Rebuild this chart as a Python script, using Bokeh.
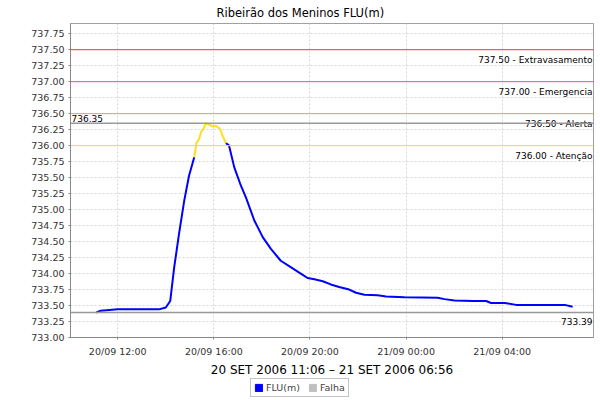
import pandas as pd
from bokeh.plotting import figure
from bokeh.layouts import column
from bokeh.models import (Range1d, FixedTicker, DatetimeTickFormatter, NumeralTickFormatter,
                          Span, Label, Legend, LegendItem, Title)
from bokeh.embed import file_html
from bokeh.resources import INLINE

# ---------------- data ----------------
times = [
    "2006-09-20 11:06", "2006-09-20 11:17", "2006-09-20 12:00", "2006-09-20 13:43",
    "2006-09-20 14:00", "2006-09-20 14:11", "2006-09-20 14:21", "2006-09-20 14:33",
    "2006-09-20 14:46", "2006-09-20 14:58", "2006-09-20 15:11", "2006-09-20 15:17",
    "2006-09-20 15:23", "2006-09-20 15:29", "2006-09-20 15:33", "2006-09-20 15:40",
    "2006-09-20 15:48", "2006-09-20 15:57", "2006-09-20 16:05", "2006-09-20 16:16",
    "2006-09-20 16:20", "2006-09-20 16:30", "2006-09-20 16:38", "2006-09-20 16:51",
    "2006-09-20 17:06", "2006-09-20 17:20", "2006-09-20 17:41", "2006-09-20 18:02",
    "2006-09-20 18:22", "2006-09-20 18:47", "2006-09-20 19:12", "2006-09-20 19:37",
    "2006-09-20 19:54", "2006-09-20 20:11", "2006-09-20 20:32", "2006-09-20 20:52",
    "2006-09-20 21:13", "2006-09-20 21:38", "2006-09-20 21:55", "2006-09-20 22:16",
    "2006-09-20 22:49", "2006-09-20 23:10", "2006-09-20 23:56", "2006-09-21 01:19",
    "2006-09-21 01:36", "2006-09-21 02:01", "2006-09-21 02:47", "2006-09-21 03:20",
    "2006-09-21 03:32", "2006-09-21 04:06", "2006-09-21 04:35", "2006-09-21 06:36",
    "2006-09-21 06:56",
]
levels = [
    733.39, 733.42, 733.44, 733.44,
    733.47, 733.57, 734.10, 734.62,
    735.14, 735.53, 735.82, 736.05,
    736.10, 736.23, 736.25, 736.35,
    736.33, 736.30, 736.31, 736.26,
    736.18, 736.04, 736.00, 735.66,
    735.40, 735.19, 734.83, 734.57,
    734.39, 734.20, 734.10, 734.00,
    733.93, 733.91, 733.88, 733.83,
    733.79, 733.75, 733.70, 733.67,
    733.66, 733.64, 733.63, 733.62,
    733.60, 733.58, 733.57, 733.57,
    733.54, 733.54, 733.51, 733.51,
    733.48,
]
alert_from = "2006-09-20 15:11"
alert_to = "2006-09-20 16:30"
falha_times = []
falha_levels = []

limit_levels = [737.50, 737.00, 736.50, 736.00]
limit_names = ["Extravasamento", "Emergencia", "Alerta", "Atenção"]
limit_colors = ["#ee3a3a", "#e444e4", "#f0a040", "#ffd830"]

x_ticks = ["2006-09-20 12:00", "2006-09-20 16:00", "2006-09-20 20:00",
           "2006-09-21 00:00", "2006-09-21 04:00"]
y_ticks = [733.00, 733.25, 733.50, 733.75, 734.00, 734.25, 734.50, 734.75,
           735.00, 735.25, 735.50, 735.75, 736.00, 736.25, 736.50, 736.75,
           737.00, 737.25, 737.50, 737.75]
x_start, x_end = "2006-09-20 10:02", "2006-09-21 07:48"
y_start, y_end = 733.00, 737.91

title_text = "Ribeirão dos Meninos FLU(m)"
period_text = "20 SET 2006 11:06 \u2013 21 SET 2006 06:56"
series_name = "FLU(m)"
falha_name = "Falha"


def ms(s):
    return (pd.Timestamp(s) - pd.Timestamp(0)) / pd.Timedelta(milliseconds=1)


t_ms = [ms(t) for t in times]
a0, a1 = ms(alert_from), ms(alert_to)

# split into colour runs
blue_xs, blue_ys, yel_xs, yel_ys = [], [], [], []
before = [(t, v) for t, v in zip(t_ms, levels) if t <= a0]
inside = [(t, v) for t, v in zip(t_ms, levels) if a0 <= t <= a1]
after = [(t, v) for t, v in zip(t_ms, levels) if t >= a1]
for run in (before, after):
    blue_xs.append([r[0] for r in run])
    blue_ys.append([r[1] for r in run])
yel_xs.append([r[0] for r in inside])
yel_ys.append([r[1] for r in inside])

FONT = "DejaVu Sans"

p = figure(width=600, height=378, output_backend="svg", toolbar_location=None,
           x_axis_type="datetime",
           x_range=Range1d(ms(x_start), ms(x_end)), y_range=Range1d(y_start, y_end),
           min_border_left=70, min_border_right=7, min_border_top=0, min_border_bottom=41,
           background_fill_color="white", border_fill_color="white")

p.title.text = title_text
p.title.align = "left"
p.title.offset = 146
p.title.text_font = FONT
p.title.text_font_size = "11.5px"
p.title.text_font_style = "normal"
p.title.text_color = "#000000"
p.title.standoff = 7

p.outline_line_color = "#a0a0a0"

# axes
p.xaxis.ticker = FixedTicker(ticks=[ms(t) for t in x_ticks])
p.xaxis.formatter = DatetimeTickFormatter(hours="%d/%m %H:%M", days="%d/%m %H:%M",
                                          minutes="%d/%m %H:%M")
p.yaxis.ticker = FixedTicker(ticks=y_ticks)
p.yaxis.formatter = NumeralTickFormatter(format="0.00")
for ax in (p.xaxis, p.yaxis):
    ax.axis_line_color = "#888888"
    ax.major_tick_line_color = "#888888"
    ax.major_tick_out = 2
    ax.major_tick_in = 0
    ax.minor_tick_line_color = None
    ax.major_label_text_font = FONT
    ax.major_label_text_font_size = "9.5px"
    ax.major_label_text_color = "#333333"
p.xaxis.major_label_standoff = 6
p.yaxis.major_label_standoff = 4

p.xgrid.ticker = p.xaxis.ticker
p.ygrid.ticker = p.yaxis.ticker
for g in (p.xgrid, p.ygrid):
    g.grid_line_color = "#d6d6d6"
    g.grid_line_dash = "2 2"
    g.grid_line_width = 1

# limit lines
x_right = ms(x_end)
x_left = ms(x_start)
for lv, nm, col in zip(limit_levels, limit_names, limit_colors):
    p.add_layout(Span(location=lv, dimension="width", line_color=col, line_width=1))
    p.add_layout(Label(x=x_right, y=lv, text=f"{lv:.2f} - {nm}", text_align="right",
                       text_baseline="top", x_offset=-1, y_offset=-5,
                       text_font=FONT, text_font_size="9px", text_color="#000000"))

vmax, vmin = max(levels), min(levels)
p.add_layout(Span(location=vmax, dimension="width", line_color="#999999", line_width=1.5))
p.add_layout(Span(location=vmin, dimension="width", line_color="#999999", line_width=1.5))
p.add_layout(Label(x=x_left, y=vmax, text=f"{vmax:.2f}", text_align="left",
                   text_baseline="bottom", x_offset=1, y_offset=1,
                   text_font=FONT, text_font_size="9px", text_color="#000000"))
p.add_layout(Label(x=x_right, y=vmin, text=f"{vmin:.2f}", text_align="right",
                   text_baseline="top", x_offset=-1, y_offset=-5,
                   text_font=FONT, text_font_size="9px", text_color="#000000"))

# series
p.multi_line(xs=blue_xs, ys=blue_ys, line_color="#0000ff", line_width=2)
p.multi_line(xs=yel_xs, ys=yel_ys, line_color="#ffdd22", line_width=2)
p.line(x=falha_times, y=falha_levels, line_color="#bbbbbb", line_width=2)

sub = Title(text=period_text, align="center", text_font=FONT,
            text_font_size="12px", text_font_style="normal", text_color="#000000", standoff=3)
p.add_layout(sub, "below")

# legend strip (swatch proxies sit outside this strip's visible range)
lf = figure(width=600, height=22, output_backend="svg", toolbar_location=None,
            x_range=Range1d(0, 1), y_range=Range1d(0, 1),
            x_axis_location=None, y_axis_location=None,
            min_border_left=0, min_border_right=0, min_border_top=0, min_border_bottom=0,
            background_fill_color="white", border_fill_color="white")
lf.outline_line_color = None
lf.grid.visible = False
sw_blue = lf.quad(left=t_ms[:1], right=t_ms[:1], top=levels[:1], bottom=levels[:1],
                  fill_color="#0000ff", line_color="#0000ff")
sw_grey = lf.quad(left=t_ms[:1], right=t_ms[:1], top=levels[:1], bottom=levels[:1],
                  fill_color="#c0c0c0", line_color="#c0c0c0")
legend = Legend(items=[LegendItem(label=series_name, renderers=[sw_blue]),
                       LegendItem(label=falha_name, renderers=[sw_grey])],
                orientation="horizontal", location=(180, 3),
                label_text_font=FONT, label_text_font_size="9.5px",
                glyph_width=9, glyph_height=9, label_standoff=3, spacing=8,
                padding=3, margin=0, border_line_color="#888888",
                label_height=10)
lf.add_layout(legend, "center")

open("out.html", "w").write(file_html(column(p, lf, spacing=0), INLINE))
